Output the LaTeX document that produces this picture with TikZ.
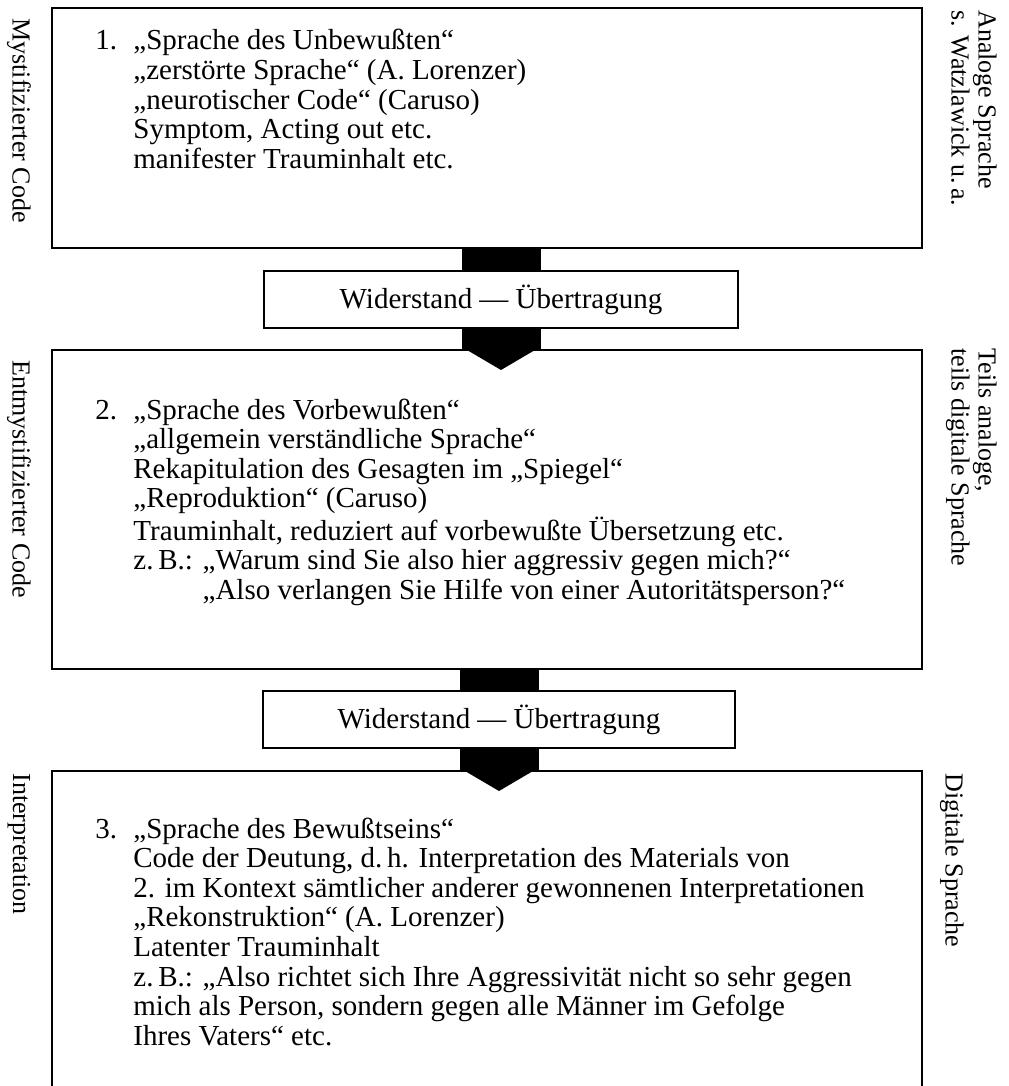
\documentclass[tikz,border=0pt]{standalone}
\usepackage{fontspec}
\setmainfont{Liberation Serif}
\usepackage{tikz}

\newcommand{\txtsize}{\fontsize{14.5}{14.8}\selectfont}
\newcommand{\sidesize}{\fontsize{13}{13.5}\selectfont}

\begin{document}
\begin{tikzpicture}[x=0.5pt, y=-0.5pt,
    box/.style={draw, line width=1pt, inner sep=0pt, outer sep=0pt, anchor=north west},
    txt/.style={inner sep=0pt, anchor=base west, font=\txtsize},
    side/.style={inner sep=0pt, rotate=-90, font=\sidesize},
    stem/.style={line width=39.5pt}]
    \clip (0,0) rectangle (1008,1086);
    % the three levels and the two resistance boxes
    \node[box, minimum width=435pt, minimum height=120pt] (box1) at (52,8) {};
    \node[box, minimum width=237pt, minimum height=28.5pt] (res1) at (264,271) {};
    \node[box, minimum width=435pt, minimum height=159.5pt] (box2) at (52,350) {};
    \node[box, minimum width=236pt, minimum height=28.5pt] (res2) at (263,691) {};
    \node[box, minimum width=435pt, minimum height=170pt] (box3) at (52,771) {};
    \node[font=\txtsize] at (res1) {Widerstand --- Übertragung};
    \node[font=\txtsize] at (res2) {Widerstand --- Übertragung};
    % arrows
    \draw[stem] (res1.north) -- (res1.north |- box1.south);
    \draw[stem] (res1.south) -- (res1.south |- box2.north);
    \fill (res1.south |- box2.north) ++(-34,0) -- ++(68,0) -- ++(-34,20) -- cycle;
    \draw[stem] (res2.north) -- (res2.north |- box2.south);
    \draw[stem] (res2.south) -- (res2.south |- box3.north);
    \fill (res2.south |- box3.north) ++(-34,0) -- ++(68,0) -- ++(-34,20) -- cycle;
    % texts
    \node[txt] (txt1) at (95,50) {\begin{tabular}[t]{@{}p{19pt}@{}l@{}}
        1. & „Sprache des Unbewußten“\\
        & „zerstörte Sprache“ (A. Lorenzer)\\
        & „neurotischer Code“ (Caruso)\\
        & Symptom, Acting out etc.\\
        & manifester Trauminhalt etc.
    \end{tabular}};
    \node[txt] (txt2) at (95,419) {\begin{tabular}[t]{@{}p{19pt}@{}l@{}}
        2. & „Sprache des Vorbewußten“\\
        & „allgemein verständliche Sprache“\\
        & Rekapitulation des Gesagten im „Spiegel“\\
        & „Reproduktion“ (Caruso)\\
        & Trauminhalt, reduziert auf vorbewußte Übersetzung etc.\\
        & z.\,B.: „Warum sind Sie also hier aggressiv gegen mich?“\\
        & \phantom{z.\,B.: }„Also verlangen Sie Hilfe von einer Autoritätsperson?“
    \end{tabular}};
    \node[txt] (txt3) at (95,838) {\begin{tabular}[t]{@{}p{19pt}@{}l@{}}
        3. & „Sprache des Bewußtseins“\\
        & Code der Deutung, d.\,h. Interpretation des Materials von\\
        & 2. im Kontext sämtlicher anderer gewonnenen Interpretationen\\
        & „Rekonstruktion“ (A. Lorenzer)\\
        & Latenter Trauminhalt\\
        & z.\,B.: „Also richtet sich Ihre Aggressivität nicht so sehr gegen\\
        & mich als Person, sondern gegen alle Männer im Gefolge\\
        & Ihres Vaters“ etc.
    \end{tabular}};
    % side labels
    \foreach \n/\y/\t in {code1/18/Mystifizierter Code, code2/360/Entmystifizierter Code, code3/773/Interpretation}
        \node[side, anchor=west] (\n) at (19,\y) {\t};
    \node[side, anchor=north west, align=left] (lang1) at (997,10) {Analoge Sprache\\s. Watzlawick u.\,a.};
    \node[side, anchor=north west, align=left] (lang2) at (997,348) {Teils analoge,\\teils digitale Sprache};
    \node[side, anchor=north west] (lang3) at (964,773) {Digitale Sprache};
\end{tikzpicture}
\end{document}
